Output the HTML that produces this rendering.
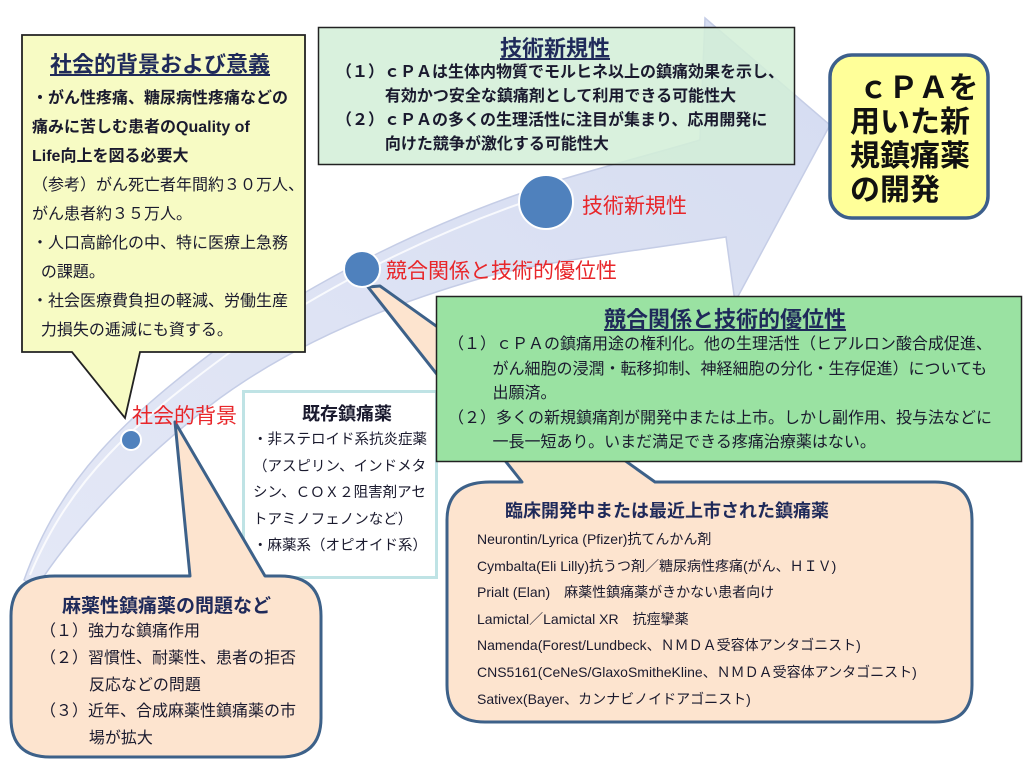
<!DOCTYPE html>
<html><head><meta charset="utf-8">
<style>
body{margin:0;width:1024px;height:782px;background:#fff;position:relative;overflow:hidden;font-family:"Liberation Sans","Noto Sans CJK JP",sans-serif;}
.t{position:absolute;white-space:nowrap;color:#1a1a2e;}
.ttl{font-weight:bold;color:#1f2a5a;}
.u{text-decoration:underline;}
.red{color:#e8262a;position:absolute;white-space:nowrap;}
svg{position:absolute;left:0;top:0;}
</style></head><body>
<svg width="1024" height="782" viewBox="0 0 1024 782">
<defs>
<linearGradient id="bg" x1="0" y1="1" x2="1" y2="0">
<stop offset="0" stop-color="#e4e8f6"/><stop offset="1" stop-color="#d5dcf1"/>
</linearGradient>
</defs>
<path d="M24,580 C60,480 120,420 233,337 C320,280 420,225 560,180 C620,162 660,152 700,140 L705,18 L830,125 L735,302 L726,237 C640,250 560,260 500,273 C400,300 300,340 220,398 C150,450 80,520 36,588 Z" fill="url(#bg)" stroke="#c5cde6" stroke-width="1.5"/>
<path d="M30,575 C70,480 130,425 240,345 C330,285 430,232 560,190" fill="none" stroke="#ffffff" stroke-width="2" opacity="0.8"/>

<path d="M22,35 H305 V352 H140 L125,418 L72,352 H22 Z" fill="#f7fbc4" stroke="#222" stroke-width="1.8"/>

<rect x="243.5" y="391.5" width="193" height="186" fill="#fff" stroke="#bfe3e5" stroke-width="3"/>

<path d="M490,482 H522 L368,287 L380,286 L655,482 H935 Q972,482 972,520 V685 Q972,722 935,722 H485 Q447,722 447,685 V520 Q447,482 490,482 Z" fill="#fde4cf" stroke="#3d6189" stroke-width="3" stroke-linejoin="round"/>

<rect x="436.5" y="296.5" width="585" height="165" fill="#9ae2a2" stroke="#222" stroke-width="1.5"/>

<rect x="318.5" y="27.5" width="476" height="137" fill="#d2efd7" fill-opacity="0.85" stroke="#222" stroke-width="1.5"/>

<path d="M55,576 H190 L175,422 L265,576 H280 Q321,576 321,616 V718 Q321,757 280,757 H50 Q11,757 11,718 V616 Q11,576 55,576 Z" fill="#fde4cf" stroke="#3d6189" stroke-width="3" stroke-linejoin="round"/>

<rect x="830" y="55" width="158" height="163" rx="22" fill="#ffff99" stroke="#3c5f8c" stroke-width="3.5"/>

<circle cx="546" cy="202" r="27" fill="#4f81bd" stroke="#fff" stroke-width="2"/>
<circle cx="362" cy="269" r="18" fill="#4f81bd" stroke="#fff" stroke-width="2"/>
<circle cx="131" cy="440" r="10" fill="#4f81bd" stroke="#fff" stroke-width="2"/>
</svg>

<div class="t ttl u" style="left:50px;top:47px;font-size:22px;">社会的背景および意義</div>
<div class="t" style="left:32px;top:84px;font-size:16px;line-height:29px;font-weight:bold;">
・がん性疼痛、糖尿病性疼痛などの<br>痛みに苦しむ患者のQuality of<br>Life向上を図る必要大</div>
<div class="t" style="left:32px;top:171px;font-size:16px;line-height:29px;">
（参考）がん死亡者年間約３０万人、<br>がん患者約３５万人。<br>・人口高齢化の中、特に医療上急務<br>&nbsp;&nbsp;の課題。<br>・社会医療費負担の軽減、労働生産<br>&nbsp;&nbsp;力損失の逓減にも資する。</div>

<div class="t ttl u" style="left:500px;top:31px;font-size:22px;">技術新規性</div>
<div class="t" style="left:336px;top:61px;font-size:16px;line-height:24px;font-weight:bold;">
（１）ｃＰＡは生体内物質でモルヒネ以上の鎮痛効果を示し、<br>&nbsp;&nbsp;&nbsp;&nbsp;&nbsp;&nbsp;&nbsp;&nbsp;&nbsp;&nbsp;&nbsp;有効かつ安全な鎮痛剤として利用できる可能性大<br>（２）ｃＰＡの多くの生理活性に注目が集まり、応用開発に<br>&nbsp;&nbsp;&nbsp;&nbsp;&nbsp;&nbsp;&nbsp;&nbsp;&nbsp;&nbsp;&nbsp;向けた競争が激化する可能性大</div>

<div class="t" style="left:850px;top:72px;font-size:30px;line-height:34px;font-weight:bold;color:#111;">&nbsp;ｃＰＡを<br>用いた新<br>規鎮痛薬<br>の開発</div>

<div class="red" style="left:582px;top:190px;font-size:21px;">技術新規性</div>
<div class="red" style="left:386px;top:255px;font-size:21px;">競合関係と技術的優位性</div>
<div class="red" style="left:132px;top:400px;font-size:21px;">社会的背景</div>

<div class="t ttl u" style="left:604px;top:302px;font-size:22px;">競合関係と技術的優位性</div>
<div class="t" style="left:448px;top:333px;font-size:16px;line-height:24.5px;">
（１）ｃＰＡの鎮痛用途の権利化。他の生理活性（ヒアルロン酸合成促進、<br>&nbsp;&nbsp;&nbsp;&nbsp;&nbsp;&nbsp;&nbsp;&nbsp;&nbsp;&nbsp;がん細胞の浸潤・転移抑制、神経細胞の分化・生存促進）についても<br>&nbsp;&nbsp;&nbsp;&nbsp;&nbsp;&nbsp;&nbsp;&nbsp;&nbsp;&nbsp;出願済。<br>（２）多くの新規鎮痛剤が開発中または上市。しかし副作用、投与法などに<br>&nbsp;&nbsp;&nbsp;&nbsp;&nbsp;&nbsp;&nbsp;&nbsp;&nbsp;&nbsp;一長一短あり。いまだ満足できる疼痛治療薬はない。</div>

<div class="t ttl" style="left:302px;top:400px;font-size:18px;color:#1a1a2e;">既存鎮痛薬</div>
<div class="t" style="left:253px;top:427px;font-size:14.5px;line-height:26.5px;">
・非ステロイド系抗炎症薬<br>（アスピリン、インドメタ<br>シン、ＣＯＸ２阻害剤アセ<br>トアミノフェノンなど）<br>・麻薬系（オピオイド系）</div>

<div class="t ttl" style="left:62px;top:591px;font-size:19px;">麻薬性鎮痛薬の問題など</div>
<div class="t" style="left:40px;top:619px;font-size:16px;line-height:26.8px;">
（１）強力な鎮痛作用<br>（２）習慣性、耐薬性、患者の拒否<br>&nbsp;&nbsp;&nbsp;&nbsp;&nbsp;&nbsp;&nbsp;&nbsp;&nbsp;&nbsp;&nbsp;反応などの問題<br>（３）近年、合成麻薬性鎮痛薬の市<br>&nbsp;&nbsp;&nbsp;&nbsp;&nbsp;&nbsp;&nbsp;&nbsp;&nbsp;&nbsp;&nbsp;場が拡大</div>

<div class="t ttl" style="left:505px;top:497px;font-size:18px;">臨床開発中または最近上市された鎮痛薬</div>
<div class="t" style="left:477px;top:526px;font-size:14px;line-height:26.6px;">
Neurontin/Lyrica (Pfizer)抗てんかん剤<br>Cymbalta(Eli Lilly)抗うつ剤／糖尿病性疼痛(がん、ＨＩＶ)<br>Prialt (Elan)　麻薬性鎮痛薬がきかない患者向け<br>Lamictal／Lamictal XR　抗痙攣薬<br>Namenda(Forest/Lundbeck、ＮＭＤＡ受容体アンタゴニスト)<br>CNS5161(CeNeS/GlaxoSmitheKline、ＮＭＤＡ受容体アンタゴニスト)<br>Sativex(Bayer、カンナビノイドアゴニスト)</div>
</body></html>
